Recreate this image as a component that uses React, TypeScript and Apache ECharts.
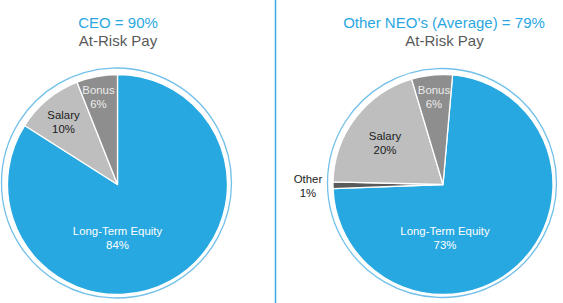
import React, { useEffect, useRef } from "react";
import * as echarts from "echarts";

const ceoNames = ["Long-Term Equity", "Salary", "Bonus"];
const ceoValues = [84, 10, 6];
const neoNames = ["Long-Term Equity", "Other", "Salary", "Bonus"];
const neoValues = [73, 1, 20, 6];
const titles = ["CEO = 90%", "Other NEO\u2019s (Average) = 79%"];
const subtitle = "At-Risk Pay";

const COLORS: Record<string, string> = {
  "Long-Term Equity": "#28A8E0",
  Salary: "#BEBEBE",
  Bonus: "#8E8E8E",
  Other: "#5A5A5A",
};
const LABEL_COLORS: Record<string, string> = {
  "Long-Term Equity": "#ffffff",
  Salary: "#1a1a1a",
  Bonus: "#ececec",
  Other: "#1a1a1a",
};
// label offsets relative to pie centers (styling)
const OFFSETS: Record<string, [number, number]>[] = [
  { "Long-Term Equity": [0, 53], Salary: [-54, -63], Bonus: [-19, -88] },
  { "Long-Term Equity": [2, 53], Salary: [-58, -42], Bonus: [-9, -88], Other: [-135, 1] },
];
const CENTERS: [number, number][] = [
  [117.5, 184.5],
  [443, 184.5],
];
const RADIUS = 110;
const FONT = "Liberation Sans, Arial, sans-serif";

export default function App() {
  const ref = useRef<HTMLDivElement>(null);
  useEffect(() => {
    if (!ref.current) return;
    const chart = echarts.init(ref.current, null, { renderer: "svg" });
    const mk = (names: string[], values: number[], idx: number, startAngle: number) => ({
      type: "pie",
      center: CENTERS[idx],
      radius: RADIUS,
      startAngle,
      clockwise: true,
      silent: true,
      avoidLabelOverlap: false,
      itemStyle: { borderColor: "#ffffff", borderWidth: 1.3 },
      label: {
        show: true,
        position: "inside",
        formatter: (p: any) => `${p.name}\n${p.value}%`,
        fontFamily: FONT,
        fontSize: 11.4,
        lineHeight: 14,
      },
      labelLine: { show: false },
      labelLayout: (p: any) => {
        const name = names[p.dataIndex];
        const off = OFFSETS[idx][name];
        return {
          x: CENTERS[idx][0] + off[0],
          y: CENTERS[idx][1] + off[1],
          align: "center",
          verticalAlign: "middle",
        };
      },
      data: names.map((n, i) => ({
        name: n,
        value: values[i],
        itemStyle: { color: COLORS[n] },
        label: { color: LABEL_COLORS[n] },
      })),
    });
    chart.setOption({
      animation: false,
      series: [mk(ceoNames, ceoValues, 0, 90), mk(neoNames, neoValues, 1, 85)],
      graphic: [
        {
          type: "line",
          shape: { x1: 275.5, y1: 0, x2: 275.5, y2: 303 },
          style: { stroke: "#3AA8E2", lineWidth: 1.5 },
        },
        {
          type: "circle",
          shape: { cx: 116.5, cy: 183, r: 115 },
          style: { fill: "none", stroke: "#72C0EA", lineWidth: 1.3 },
          z: -1,
        },
        {
          type: "circle",
          shape: { cx: 442, cy: 183, r: 114.5 },
          style: { fill: "none", stroke: "#72C0EA", lineWidth: 1.3 },
          z: -1,
        },
        {
          type: "text",
          x: 118,
          y: 22,
          style: {
            text: titles[0],
            fill: "#2AA7DF",
            font: `15px ${FONT}`,
            textAlign: "center",
            textVerticalAlign: "middle",
          },
        },
        {
          type: "text",
          x: 118,
          y: 40,
          style: {
            text: subtitle,
            fill: "#595959",
            font: `15px ${FONT}`,
            textAlign: "center",
            textVerticalAlign: "middle",
          },
        },
        {
          type: "text",
          x: 444,
          y: 22,
          style: {
            text: titles[1],
            fill: "#2AA7DF",
            font: `15px ${FONT}`,
            textAlign: "center",
            textVerticalAlign: "middle",
          },
        },
        {
          type: "text",
          x: 444.5,
          y: 40,
          style: {
            text: subtitle,
            fill: "#595959",
            font: `15px ${FONT}`,
            textAlign: "center",
            textVerticalAlign: "middle",
          },
        },
      ],
    });
    return () => chart.dispose();
  }, []);
  return (
    <div
      ref={ref}
      style={{ position: "fixed", left: 0, top: 0, width: 563, height: 303, background: "#ffffff" }}
    />
  );
}
